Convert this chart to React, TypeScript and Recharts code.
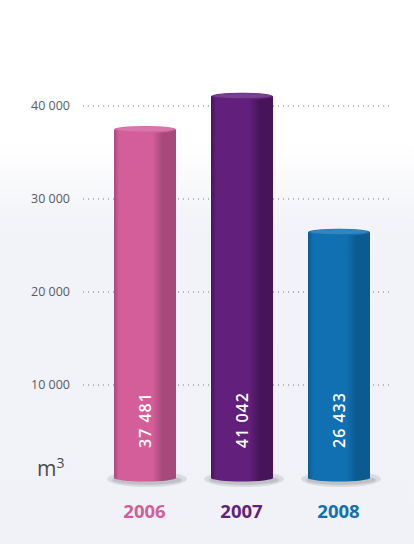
import { BarChart, Bar, XAxis, YAxis, CartesianGrid, LabelList } from 'recharts'

const years = ['2006', '2007', '2008']
const volumes = [37481, 41042, 26433]
const yTicks = [10000, 20000, 30000, 40000]
const barColors = ['#d35e9a', '#621f7c', '#1070b2']
const edgeColors = ['#a8497c', '#47145c', '#0b5a90']

const data = years.map((year, i) => ({ year, volume: volumes[i] }))

const fmt = (n: number) => String(n).replace(/\B(?=(\d{3})+(?!\d))/g, ' ')

function Cylinder(props: any) {
  const { x, y, width, height, index } = props
  const cx = x + width / 2
  const bottom = y + height
  const ry = 3.5
  return (
    <g>
      <ellipse cx={cx + 2} cy={bottom + 1} rx={width / 2 + 9} ry={8} fill="#c9cbd0" opacity={0.6} />
      <ellipse cx={cx + 2} cy={bottom + 2} rx={width / 2 + 4} ry={5} fill="#b4b6bb" opacity={0.7} />
      <rect x={x} y={y} width={width} height={height} fill={`url(#cyl${index})`} />
      <ellipse cx={cx} cy={bottom} rx={width / 2} ry={ry} fill={`url(#cyl${index})`} />
      <ellipse cx={cx} cy={y} rx={width / 2} ry={ry} fill={barColors[index]} />
      <ellipse cx={cx} cy={y - 0.5} rx={width / 2 - 2} ry={ry - 1} fill="#ffffff" opacity={0.15} />
    </g>
  )
}

function ValueLabel(props: any) {
  const { x, y, width, height, value } = props
  const cx = x + width / 2 + 6
  const by = y + height - 30
  return (
    <text
      x={cx}
      y={by}
      transform={`rotate(-90 ${cx} ${by})`}
      fill="#ffffff"
      fontSize={16}
      fontWeight={600}
      fontFamily="'Open Sans', sans-serif"
      letterSpacing={1}
      textAnchor="start"
    >
      {fmt(value)}
    </text>
  )
}

function YearTick(props: any) {
  const { x, y, payload, index } = props
  return (
    <text
      x={x}
      y={y + 32}
      textAnchor="middle"
      fill={barColors[index]}
      fontSize={18.5}
      fontWeight="bold"
      fontFamily="'Open Sans', sans-serif"
    >
      {payload.value}
    </text>
  )
}

export default function App() {
  return (
    <div
      style={{
        position: 'absolute',
        left: 0,
        top: 0,
        width: 414,
        height: 544,
        background: 'linear-gradient(#ffffff 0%, #ffffff 26%, #f2f3f8 42%, #f1f2f7 100%)',
      }}
    >
      <BarChart width={414} height={544} data={data} margin={{ top: 13, right: 24, bottom: 0, left: 0 }}>
        <defs>
          {barColors.map((c, i) => (
            <linearGradient key={i} id={`cyl${i}`} x1="0" y1="0" x2="1" y2="0">
              <stop offset="0%" stopColor={edgeColors[i]} />
              <stop offset="8%" stopColor={c} />
              <stop offset="62%" stopColor={c} />
              <stop offset="78%" stopColor={edgeColors[i]} />
              <stop offset="100%" stopColor={edgeColors[i]} />
            </linearGradient>
          ))}
        </defs>
        <CartesianGrid vertical={false} horizontalValues={yTicks} stroke="#777" strokeDasharray="1 4" />
        <XAxis
          dataKey="year"
          axisLine={false}
          tickLine={false}
          height={66}
          padding={{ left: 13, right: 3 }}
          tick={<YearTick />}
        />
        <YAxis
          width={83}
          domain={[0, 50000]}
          ticks={yTicks}
          axisLine={false}
          tickLine={false}
          tickMargin={7}
          tickFormatter={fmt}
          tick={{ fill: '#5a5a5a', fontSize: 12.5, fontFamily: "'Open Sans', sans-serif" }}
        />
        <Bar dataKey="volume" barSize={62} shape={<Cylinder />} isAnimationActive={false}>
          <LabelList dataKey="volume" content={<ValueLabel />} />
        </Bar>
      </BarChart>
      <div
        style={{
          position: 'absolute',
          left: 37,
          top: 453,
          fontFamily: "'Open Sans', sans-serif",
          fontSize: 21,
          color: '#4a4a4a',
        }}
      >
        m<sup style={{ fontSize: 14 }}>3</sup>
      </div>
    </div>
  )
}
